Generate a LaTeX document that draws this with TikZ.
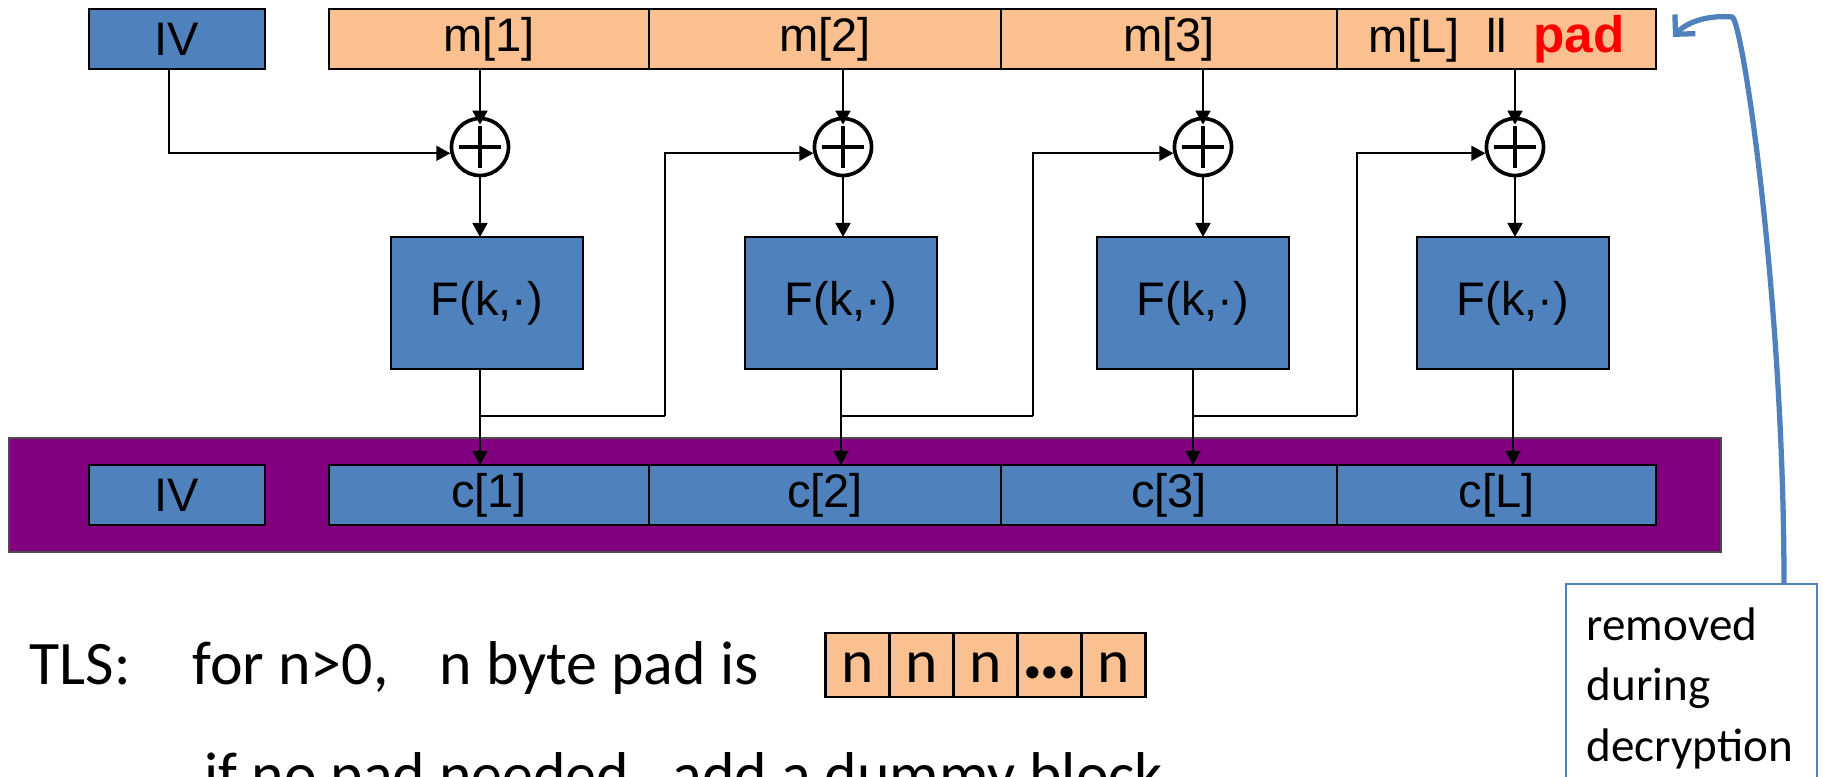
\documentclass[tikz,border=0pt]{standalone}
\usepackage{fontspec}
\setmainfont{Carlito}
\newfontfamily\arialfont{Liberation Sans}
\usepackage{tikz}
\usetikzlibrary{arrows.meta, positioning, calc}
\definecolor{boxblue}{HTML}{4F81BD}
\definecolor{msgorange}{HTML}{FAC090}
\definecolor{darkpurple}{HTML}{800080}
\definecolor{padred}{HTML}{FF0000}

\tikzset{
  blk/.style={draw=black, line width=0.45pt, outer sep=0pt, inner sep=0pt, minimum height=0.6cm,
    font=\arialfont\fontsize{13.4}{16}\selectfont},
  mblk/.style={blk, fill=msgorange},
  cblk/.style={blk, fill=boxblue},
  frame/.style={line width=0.8pt},
  prf/.style={cblk, line width=0.8pt, minimum width=1.92cm, minimum height=1.32cm},
  xorop/.style={circle, draw, line width=1.05pt, minimum size=0.57cm, inner sep=0pt, fill=white,
    path picture={
      \draw[line width=1.05pt] ([xshift=-0.21cm]path picture bounding box.center) -- ([xshift=0.21cm]path picture bounding box.center);
      \draw[line width=1.05pt] ([yshift=-0.21cm]path picture bounding box.center) -- ([yshift=0.21cm]path picture bounding box.center);
    }},
  ln/.style={line width=0.5pt},
  arr/.style={ln, -{Triangle[length=1.4mm, width=1.5mm]}},
  padcell/.style={draw, line width=0.7pt, fill=msgorange, outer sep=0pt, inner sep=0pt,
    minimum width=0.64cm, minimum height=0.64cm, text height=0.38cm, text depth=0.02cm,
    font=\fontsize{17.5}{20}\selectfont},
  tlstext/.style={anchor=base west, inner sep=0pt, font=\fontsize{17.6}{20}\selectfont},
}

\begin{document}
\begin{tikzpicture}
  \useasboundingbox (0,0) rectangle (18.23,7.77);

  % message blocks
  \node[cblk, line width=0.8pt, minimum width=1.76cm] (iv) at (1.77,7.38) {IV};
  \node[mblk, minimum width=3.20cm] (m1) at (4.89,7.38) {m[1]};
  \node[mblk, minimum width=3.52cm, right=0pt of m1] (m2) {m[2]};
  \node[mblk, minimum width=3.36cm, right=0pt of m2] (m3) {m[3]};
  \node[mblk, minimum width=3.19cm, right=0pt of m3] (mL) {m[L]~~ll~~{\bfseries\color{padred}\fontsize{14.6}{16}\selectfont pad}};
  \draw[frame] (m1.north west) rectangle (mL.south east);

  % xor and F
  \node[xorop] (x1) at (4.80,6.30) {};
  \node[xorop] (x2) at (8.43,6.30) {};
  \node[xorop] (x3) at (12.03,6.30) {};
  \node[xorop] (x4) at (15.15,6.30) {};
  \node[prf] (f1) at (4.87,4.74) {F(k,\textperiodcentered)};
  \node[prf] (f2) at (8.41,4.74) {F(k,\textperiodcentered)};
  \node[prf] (f3) at (11.93,4.74) {F(k,\textperiodcentered)};
  \node[prf] (f4) at (15.13,4.74) {F(k,\textperiodcentered)};

  % ciphertext
  \fill[darkpurple, draw=black!70, line width=0.5pt] (0.09,2.25) rectangle (17.21,3.39);
  \node[cblk, line width=0.8pt, minimum width=1.76cm] (civ) at (1.77,2.82) {IV};
  \node[cblk, minimum width=3.20cm] (c1) at (4.89,2.82) {c[1]};
  \node[cblk, minimum width=3.52cm, right=0pt of c1] (c2) {c[2]};
  \node[cblk, minimum width=3.36cm, right=0pt of c2] (c3) {c[3]};
  \node[cblk, minimum width=3.19cm, right=0pt of c3] (cL) {c[L]};
  \draw[frame] (c1.north west) rectangle (cL.south east);

  % chaining
  \draw[arr] ([xshift=-0.08cm]iv.south) |- (x1.192);
  \draw[arr, shorten >=-0.08cm] (x1 |- m1.south) -- (x1.north);
  \draw[arr, shorten >=-0.08cm] (x2 |- m2.south) -- (x2.north);
  \draw[arr, shorten >=-0.08cm] (x3 |- m3.south) -- (x3.north);
  \draw[arr, shorten >=-0.08cm] (x4 |- mL.south) -- (x4.north);
  \draw[arr] (x1.south) -- (x1 |- f1.north);
  \draw[arr] (x2.south) -- (x2 |- f2.north);
  \draw[arr] (x3.south) -- (x3 |- f3.north);
  \draw[arr] (x4.south) -- (x4 |- f4.north);
  \draw[arr] (x1 |- f1.south) -- (x1 |- c1.north);
  \draw[arr] (f2.south) -- (f2 |- c2.north);
  \draw[arr] (f3.south) -- (f3 |- c3.north);
  \draw[arr] (f4.south) -- (f4 |- cL.north);
  \coordinate (u1) at (6.65,3.61);
  \coordinate (u2) at (10.33,3.61);
  \coordinate (u3) at (13.57,3.61);
  \draw[ln] (x1 |- u1) -- (u1);
  \draw[ln] (f2 |- u2) -- (u2);
  \draw[ln] (f3 |- u3) -- (u3);
  \draw[arr] (u1) |- (x2.192);
  \draw[arr] (u2) |- (x3.192);
  \draw[arr] (u3) |- (x4.192);

  % TLS padding
  \node[tlstext] (tls) at (0.29,0.92) {TLS:};
  \node[tlstext] (cond) at (1.92,0.92) {for n>0,};
  \node[tlstext] (padis) at (4.39,0.92) {n byte pad is};
  \node[padcell] (p1) at (8.575,1.12) {n};
  \node[padcell, right=0pt of p1] (p2) {n};
  \node[padcell, right=0pt of p2] (p3) {n};
  \node[padcell, right=0pt of p3] (p4) {\fontsize{9.8}{10}\selectfont\textbullet\textbullet\textbullet};
  \node[padcell, right=0pt of p4] (p5) {n};
  \node[tlstext] (dummy) at (2.04,-0.19) {if no pad needed, \ add a dummy block};

  % note
  \node[draw=boxblue, line width=0.5pt, outer sep=0pt, minimum width=2.51cm, minimum height=2.5cm, anchor=north west] (rmv) at (15.66,1.93) {};
  \node[anchor=north west, inner sep=0pt, align=left, font=\fontsize{13.4}{17.2}\selectfont] (rmvtext) at (15.86,1.70) {removed\\during\\decryption};
  \draw[boxblue, line width=1.5pt, -{Straight Barb[length=1.4mm, width=2.8mm]}]
    ([xshift=0.925cm]rmv.north) .. controls (17.84,4.8) and (17.42,7.60) .. (17.32,7.60)
    .. controls (17.10,7.62) and (16.88,7.56) .. (16.73,7.40);
\end{tikzpicture}
\end{document}
